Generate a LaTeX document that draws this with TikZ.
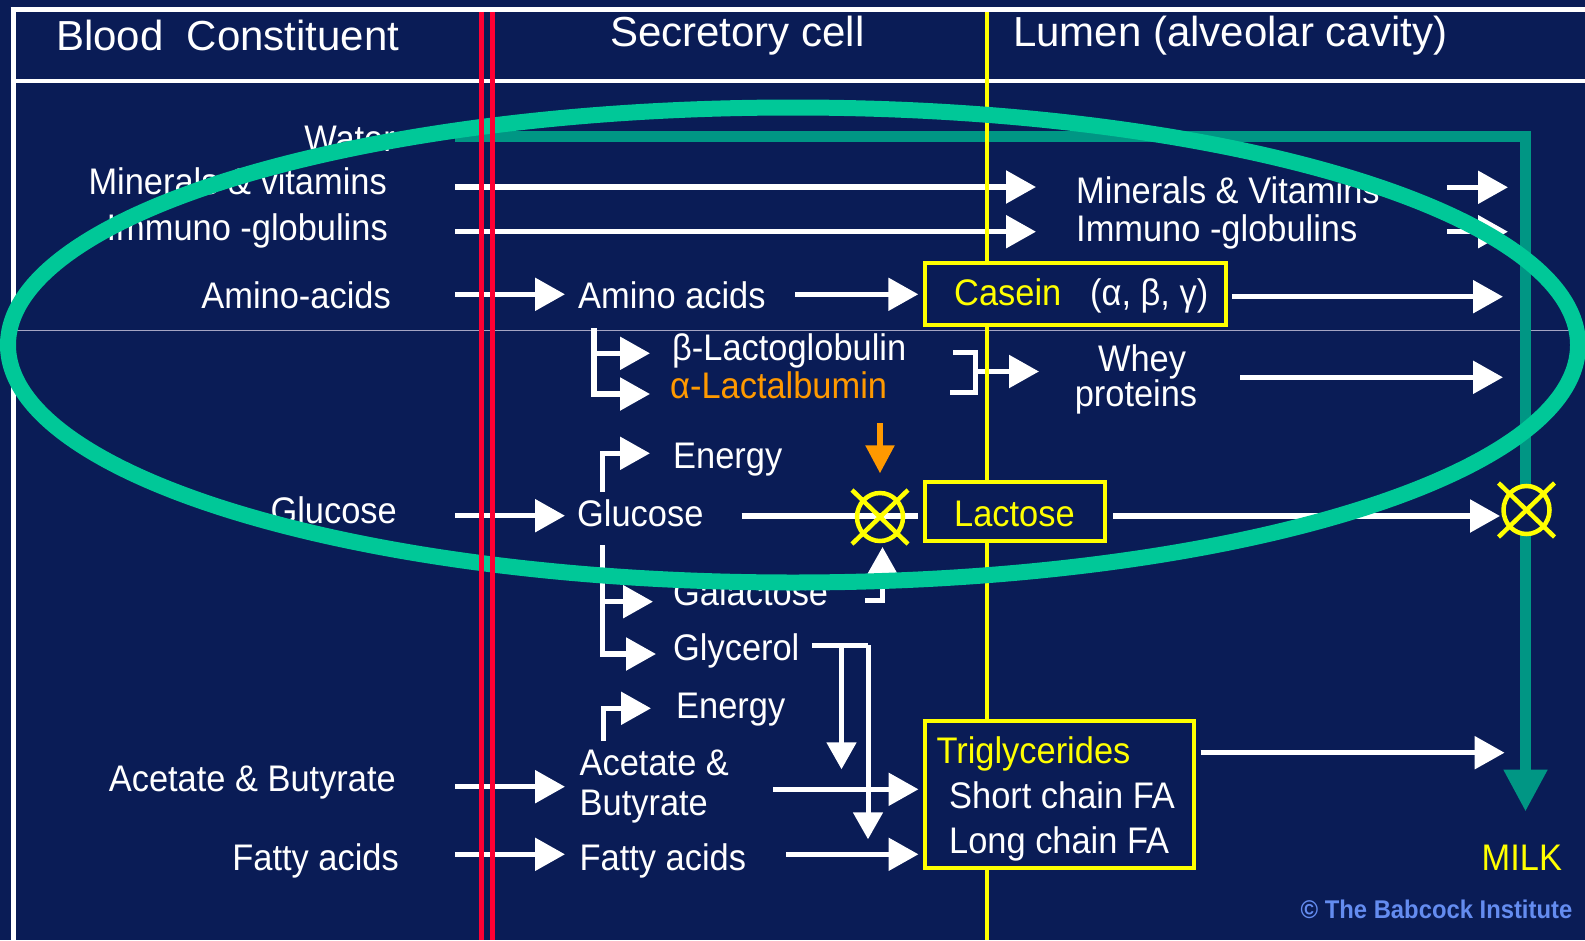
\documentclass[tikz,border=0pt]{standalone}
\usepackage{fontspec}
\setmainfont{Liberation Sans}[FakeStretch=0.93]
\newfontfamily\headfont{Liberation Sans}
\usetikzlibrary{arrows.meta}

\definecolor{navy}{RGB}{10,28,86}
\definecolor{redline}{RGB}{255,0,51}
\definecolor{yel}{RGB}{255,255,0}
\definecolor{orng}{RGB}{255,153,0}
\definecolor{tealline}{RGB}{0,150,132}
\definecolor{ringgreen}{RGB}{0,200,152}
\definecolor{rulegray}{RGB}{165,165,195}
\definecolor{creditblue}{RGB}{100,140,240}

\newcommand\bodyfs{\fontsize{37}{40}\selectfont}
\newcommand\headfs{\headfont\fontsize{42}{46}\selectfont}
\newcommand\creditfs{\bfseries\fontsize{25.6}{28}\selectfont}

\tikzset{
  lbl/.style={inner sep=0pt, text=white, font=\bodyfs},
  hdr/.style={inner sep=0pt, text=white, font=\headfs},
  flow/.style={draw=white, line width=5.5pt, -{Triangle[length=30pt,width=32pt]}},
  drop/.style={draw=white, line width=5pt, -{Triangle[length=27pt,width=29pt]}},
  wire/.style={draw=white, line width=5pt},
  ybox/.style={draw=yel, line width=4pt, fill=navy, inner sep=0pt},
  rule/.style={draw=white, line width=5pt},
  blocked/.pic={
    \draw[pic actions, draw=yel, line width=4.5pt] (0,0) ellipse [x radius=23pt, y radius=24pt];
    \draw[draw=yel, line width=4.5pt] (-28,-27) -- (28,27) (-28,27) -- (28,-27);
  }
}

\begin{document}
\begin{tikzpicture}[x=1pt,y=-1pt]
\useasboundingbox (0,0) rectangle (1585,940);
\fill[navy] (0,0) rectangle (1585,940);

% table frame and header rule
\draw[rule] (13,7) -- (13,940);
\draw[rule] (10.5,9.5) -- (1585,9.5);
\draw[white, line width=4pt] (13,80.5) -- (1585,80.5);
\draw[rulegray, line width=1pt] (16,330) -- (1575,330);

% column headings
\node[hdr, anchor=base west] (hBlood) at (56,50) {Blood~~Constituent};
\node[hdr, anchor=base west] (hCell) at (610,46.7) {Secretory cell};
\node[hdr, anchor=base west] (hLumen) at (1013,46.7) {Lumen (alveolar cavity)};

% end points of the connectors
\coordinate (wtS) at (455,136);   \coordinate (wtE) at (1525.5,811.7);
\coordinate (minS) at (455,187);  \coordinate (minE) at (1036,187);
\coordinate (immS) at (455,231.7); \coordinate (immE) at (1036,231.7);
\coordinate (minRS) at (1447,187.3); \coordinate (minRE) at (1508,187.3);
\coordinate (immRS) at (1447,231.7); \coordinate (immRE) at (1508,231.7);
\coordinate (aaS) at (455,294.3); \coordinate (aaE) at (565,294.3);
\coordinate (aaMS) at (795,294.3); \coordinate (aaME) at (918.3,294.3);
\coordinate (casS) at (1232,296.7); \coordinate (casE) at (1503,296.7);
\coordinate (wpTop) at (594,328); \coordinate (wpMid) at (594,353.3);
\coordinate (betaE) at (650,353.3); \coordinate (alphaE) at (650,394);
\coordinate (brA) at (953,352.5); \coordinate (brB) at (975.5,352.5);
\coordinate (brC) at (975.5,392); \coordinate (brD) at (950,392);
\coordinate (brM) at (975.5,371.5); \coordinate (wheyE) at (1039,371.5);
\coordinate (wpS) at (1240,377.3); \coordinate (wpE) at (1503,377.3);
\coordinate (en1S) at (602.5,491.7); \coordinate (en1E) at (650,453.3);
\coordinate (gluS) at (455,515.7); \coordinate (gluE) at (565,515.7);
\coordinate (gluMS) at (741.7,516); \coordinate (gluME) at (918.3,516);
\coordinate (oS) at (880,423.3); \coordinate (oE) at (880,473.3);
\coordinate (galS) at (865,600.5); \coordinate (galE) at (882.5,547);
\coordinate (brTop) at (602.5,545); \coordinate (galB) at (602.5,601.7);
\coordinate (galBE) at (653,601.7); \coordinate (glyE) at (656,654);
\coordinate (gtS) at (812,645.3); \coordinate (gtJ) at (841.5,645.3);
\coordinate (gtC) at (868,645.3); \coordinate (gtE1) at (841.5,769.3);
\coordinate (gtE2) at (868,839.3);
\coordinate (en2S) at (603.5,740.7); \coordinate (en2E) at (651,708.3);
\coordinate (acS) at (455,786.7); \coordinate (acE) at (565,786.7);
\coordinate (acMS) at (773,789.3); \coordinate (acME) at (918.5,789.3);
\coordinate (faS) at (455,854.3); \coordinate (faE) at (565,854.3);
\coordinate (faMS) at (786,854.3); \coordinate (faME) at (918.5,854.3);
\coordinate (tgS) at (1200.5,752.7); \coordinate (tgE) at (1504.6,752.7);
\coordinate (lacS) at (1113,516); \coordinate (lacE) at (1500,516);

% water goes straight through to milk
\draw[tealline, line width=11pt, -{Triangle[length=42pt,width=41pt]}] (wtS) -| (wtE);

% white flow arrows
\draw[flow] (minS) -- (minE);
\draw[flow] (immS) -- (immE);
\draw[flow] (minRS) -- (minRE);
\draw[flow] (immRS) -- (immRE);
\draw[flow] (aaS) -- (aaE);
\draw[flow] (aaMS) -- (aaME);
\draw[flow] (casS) -- (casE);
\draw[flow] (wpTop) |- (alphaE);
\draw[flow] (wpMid) -- (betaE);
\draw[wire] (brA) -- (brB) -- (brC) -- (brD);
\draw[flow] (brM) -- (wheyE);
\draw[flow] (wpS) -- (wpE);
\draw[flow] (en1S) |- (en1E);
\draw[flow] (gluS) -- (gluE);
\draw[wire, line width=5.5pt] (gluMS) -- (gluME);
\draw[orng, line width=5.5pt, -{Triangle[length=28pt,width=28pt]}] (oS) -- (oE);
\draw[wire, -{Triangle[length=28pt,width=30pt]}] (galS) -| (galE);
\draw[flow] (brTop) |- (glyE);
\draw[flow] (galB) -- (galBE);
\draw[wire] (gtS) -- (gtC);
\draw[drop] (gtJ) -- (gtE1);
\draw[drop] (gtC) -- (gtE2);
\draw[flow] (en2S) |- (en2E);
\draw[flow] (acS) -- (acE);
\draw[flow] (acMS) -- (acME);
\draw[flow] (faS) -- (faE);
\draw[flow] (faMS) -- (faME);
\draw[flow] (tgS) -- (tgE);
\draw[flow] (lacS) -- (lacE);

% membrane between cell and lumen
\draw[yel, line width=4pt] (987,12) -- (987,940);

% products in the lumen
\node[ybox, minimum width=301pt, minimum height=61.7pt] (casein) at (1075.2,293.9) {};
\node[ybox, minimum width=180pt, minimum height=58.7pt] (lactose) at (1014.7,511.4) {};
\node[ybox, minimum width=269.8pt, minimum height=146.7pt] (trig) at (1059.5,794.7) {};

% blood constituents
\node[lbl, anchor=base east] (lWater) at (395,151.7) {Water};
\node[lbl, anchor=base east] (lMin) at (387,194) {Minerals \& vitamins};
\node[lbl, anchor=base east] (lImm) at (388,240.7) {Immuno -globulins};
\node[lbl, anchor=base east] (lAmino) at (391,308.3) {Amino-acids};
\node[lbl, anchor=base east] (lGlu) at (397,523.3) {Glucose};
\node[lbl, anchor=base east] (lAce) at (396,791.7) {Acetate \& Butyrate};
\node[lbl, anchor=base east] (lFat) at (399,870) {Fatty acids};

% inside the secretory cell
\node[lbl, anchor=base west] (mAmino) at (578,308.3) {Amino acids};
\node[lbl, anchor=base west] (mBeta) at (672,360) {β-Lactoglobulin};
\node[lbl, anchor=base west, text=orng] (mAlpha) at (670,398.3) {α-Lactalbumin};
\node[lbl, anchor=base west] (mEn1) at (673,468.3) {Energy};
\node[lbl, anchor=base west] (mGlu) at (577,526.7) {Glucose};
\node[lbl, anchor=base west] (mGal) at (673,605) {Galactose};
\node[lbl, anchor=base west] (mGly) at (673,660) {Glycerol};
\node[lbl, anchor=base west] (mEn2) at (676,718.3) {Energy};
\node[lbl, anchor=base west] (mAce) at (579.5,775) {Acetate \&};
\node[lbl, anchor=base west] (mBut) at (579.5,815) {Butyrate};
\node[lbl, anchor=base west] (mFat) at (579.5,870) {Fatty acids};

% in the lumen
\node[lbl, anchor=base west] (rMin) at (1076,203.3) {Minerals \& Vitamins};
\node[lbl, anchor=base west] (rImm) at (1076,241.7) {Immuno -globulins};
\node[lbl, anchor=base west, text=yel] (tCasein) at (954,305) {Casein};
\node[lbl, anchor=base west] (tGreek) at (1090,305) {(α, β, γ)};
\node[lbl, anchor=base] (tWhey) at (1142,371.7) {Whey};
\node[lbl, anchor=base] (tProt) at (1136,406.7) {proteins};
\node[lbl, anchor=base west, text=yel] (tLac) at (954,526.7) {Lactose};
\node[lbl, anchor=base west, text=yel] (tTrig) at (936.4,763.3) {Triglycerides};
\node[lbl, anchor=base west] (tShort) at (949,808.3) {Short chain FA};
\node[lbl, anchor=base west] (tLong) at (949,853.3) {Long chain FA};
\node[lbl, anchor=base west, text=yel] (tMilk) at (1481.5,870) {MILK};
\node[inner sep=0pt, anchor=base west, text=creditblue, font=\creditfs] (credit) at (1300.5,918.3) {© The Babcock Institute};

% blocked passages
\pic (blockCell) at (880,517) {blocked};
\pic[fill=navy] (blockLumen) at (1526.5,510) {blocked};

% highlighted group
\draw[ringgreen, line width=16pt] (793,345) ellipse [x radius=785pt, y radius=237.5pt];

% basement membrane of the cell
\draw[redline, line width=5pt] (481.5,12) -- (481.5,940);
\draw[redline, line width=5pt] (492.5,12) -- (492.5,940);
\end{tikzpicture}
\end{document}
